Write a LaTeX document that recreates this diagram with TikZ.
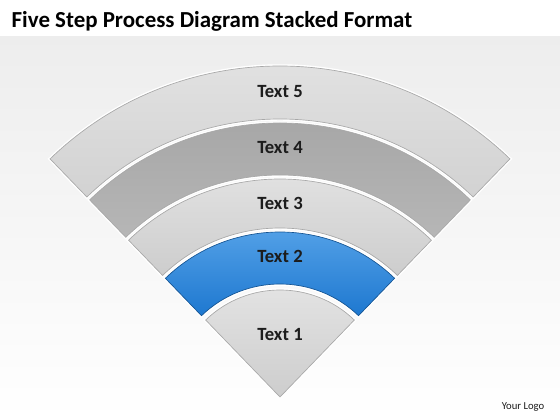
\documentclass[tikz,border=0pt]{standalone}
\usepackage{fontspec}
\setmainfont{Carlito}
\usetikzlibrary{calc}

\definecolor{bandlight}{HTML}{E4E4E4}
\definecolor{bandmid}{HTML}{CDCDCD}
\definecolor{banddark}{HTML}{A4A4A4}
\definecolor{bandblue}{HTML}{1E78D0}
\definecolor{bandbluetop}{HTML}{5AA6EA}
\definecolor{rimgray}{HTML}{A8A8A8}
\definecolor{inkdark}{HTML}{1C1C1C}

\tikzset{
  rim/.style={draw=rimgray, line width=0.5pt},
  glow/.style={draw=white, line width=2.6pt},
  steplabel/.style={font=\fontsize{14}{16}\selectfont\bfseries, text=inkdark},
}

\begin{document}
\begin{tikzpicture}[x=0.75pt,y=0.75pt]
      \useasboundingbox (0,0) rectangle (560,420);
      %\draw (0,0) grid (560,420);
      \fill[white] (0,0) rectangle (560,420);
      \shade[top color=gray!14, bottom color=white] (0,0) rectangle (560,383);
      \node[anchor=base west, font=\fontsize{17.2}{20}\selectfont\bfseries, text=black] (title) at (7,392) {Five Step Process Diagram Stacked Format};
      \coordinate (c) at (280,23);
      \begin{scope}[shift={(c)}]
        % outer band
        \draw[glow] (46:278) arc (46:134:278) -- (134:331) arc (134:46:331) -- cycle;
        \shade[rim, top color=bandlight, bottom color=bandmid!90] (46:278) arc (46:134:278) -- (134:331) arc (134:46:331) -- cycle;
        \draw[glow] (46:222) arc (46:134:222) -- (134:274) arc (134:46:274) -- cycle;
        \shade[rim, top color=banddark, bottom color=banddark!80!white] (46:222) arc (46:134:222) -- (134:274) arc (134:46:274) -- cycle;
        \draw[glow] (46:169) arc (46:134:169) -- (134:218) arc (134:46:218) -- cycle;
        \shade[rim, top color=bandlight, bottom color=bandmid] (46:169) arc (46:134:169) -- (134:218) arc (134:46:218) -- cycle;
        \draw[glow] (46:113) arc (46:134:113) -- (134:165) arc (134:46:165) -- cycle;
        \shade[draw=bandblue!70!black, line width=0.5pt, top color=bandbluetop, bottom color=bandblue] (46:113) arc (46:134:113) -- (134:165) arc (134:46:165) -- cycle;
        % inner wedge
        \draw[glow] (0,0) -- (46:107) arc (46:134:107) -- cycle;
        \shade[rim, top color=bandlight, bottom color=bandmid] (0,0) -- (46:107) arc (46:134:107) -- cycle;
        \node[steplabel] (t5) at (90:305) {Text 5};
        \node[steplabel] (t4) at (90:249) {Text 4};
        \node[steplabel] (t3) at (90:194) {Text 3};
        \node[steplabel] (t2) at (90:141) {Text 2};
        \node[steplabel] (t1) at (90:62) {Text 1};
      \end{scope}
      \node[font=\fontsize{8}{10}\selectfont, text=inkdark] (logo) at (523,13) {Your Logo};
    \end{tikzpicture}
\end{document}
